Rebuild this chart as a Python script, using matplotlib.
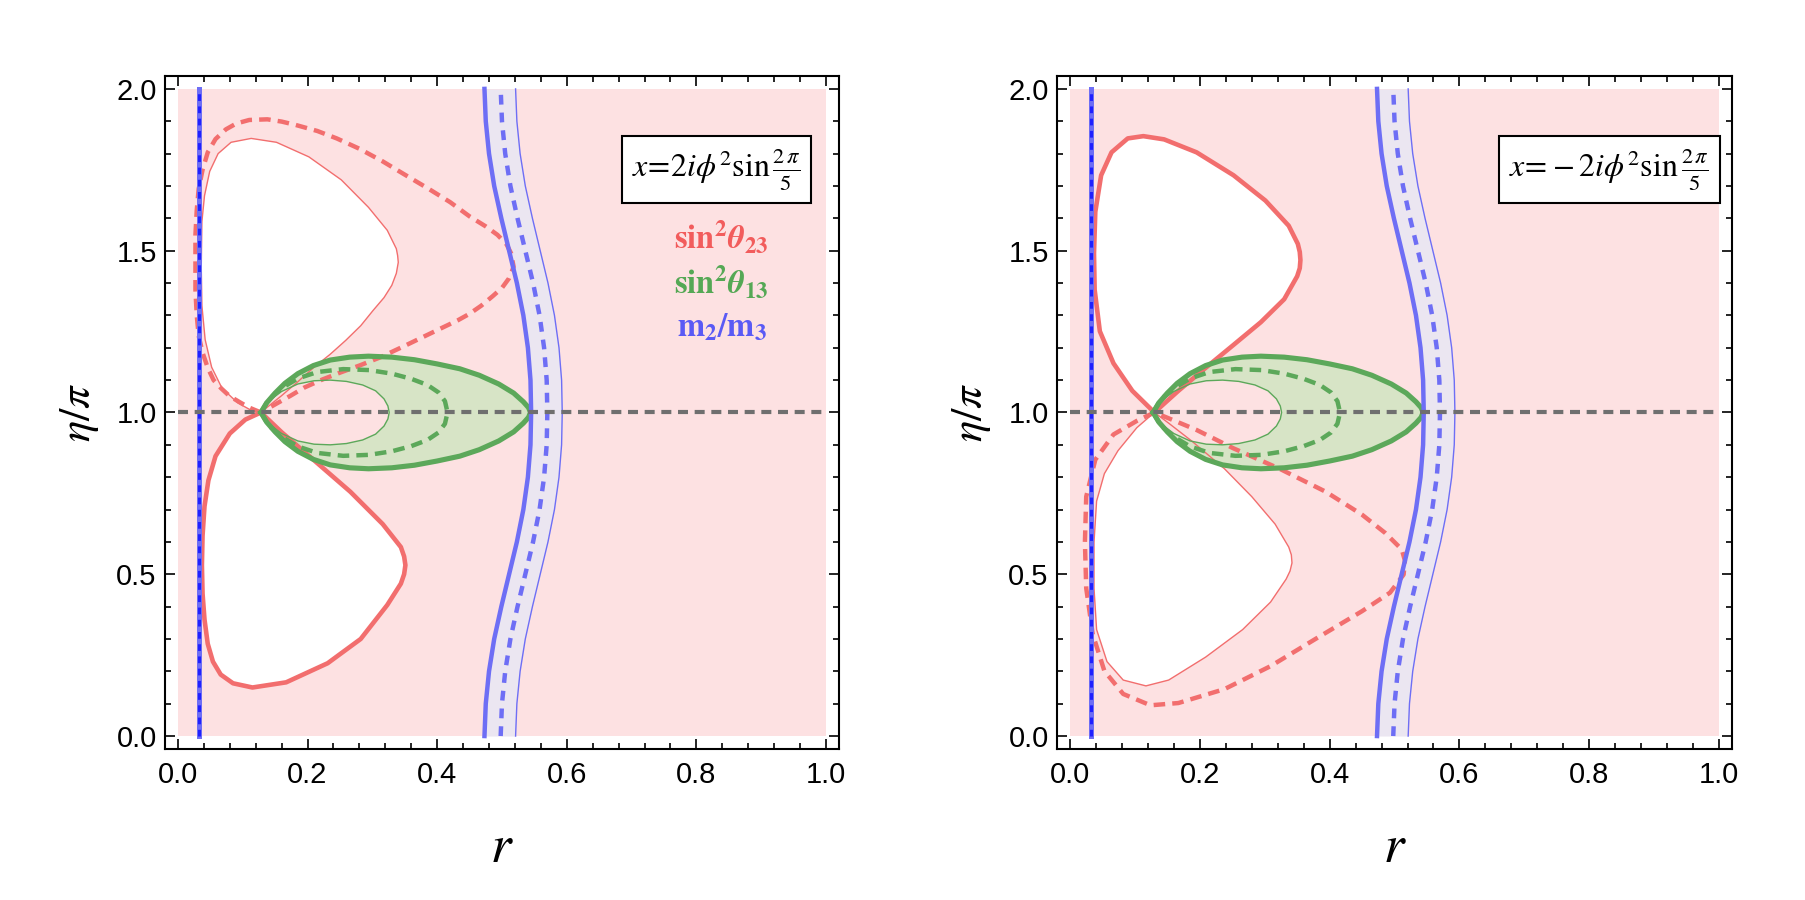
import matplotlib
matplotlib.use('Agg')
import matplotlib.pyplot as plt
from matplotlib.patches import Rectangle
from matplotlib.ticker import MultipleLocator, FormatStrFormatter

plt.rcParams['mathtext.fontset'] = 'stix'
plt.rcParams['font.family'] = ['Liberation Sans', 'DejaVu Sans']

# ---------------- data: (r, eta/pi) ----------------
# left panel, x = 2 i phi^2 sin(2pi/5)
L_up_r = [0.128, 0.145, 0.160, 0.185, 0.209, 0.235, 0.259, 0.282, 0.301, 0.318, 0.330, 0.337, 0.340, 0.339,
          0.337, 0.323, 0.294, 0.252, 0.202, 0.152, 0.113, 0.082, 0.062, 0.049, 0.041, 0.037, 0.036,
          0.037, 0.042, 0.052, 0.068, 0.092, 0.110, 0.128]
L_up_eta = [1.000, 1.028, 1.052, 1.095, 1.138, 1.180, 1.223, 1.268, 1.315, 1.355, 1.393, 1.430, 1.464, 1.485,
            1.506, 1.563, 1.634, 1.719, 1.790, 1.835, 1.847, 1.835, 1.800, 1.745, 1.670, 1.590, 1.450,
            1.330, 1.225, 1.140, 1.075, 1.030, 1.010, 1.000]

L_lo_r = [0.128, 0.160, 0.209, 0.266, 0.316, 0.344, 0.349, 0.351, 0.349, 0.344, 0.323, 0.282, 0.231,
          0.167, 0.115, 0.085, 0.066, 0.054, 0.046, 0.041, 0.038, 0.037, 0.038, 0.041, 0.047, 0.058,
          0.080, 0.104, 0.128]
L_lo_eta = [1.000, 0.939, 0.854, 0.755, 0.655, 0.584, 0.555, 0.528, 0.500, 0.471, 0.405, 0.300, 0.225,
            0.166, 0.150, 0.163, 0.190, 0.230, 0.285, 0.360, 0.440, 0.528, 0.620, 0.710, 0.790, 0.865,
            0.935, 0.978, 1.000]

L_dash_r = [0.128, 0.110, 0.096, 0.080, 0.067, 0.055, 0.046, 0.038, 0.032, 0.029, 0.027, 0.027, 0.027,
            0.029, 0.032, 0.038, 0.046, 0.058, 0.074, 0.090, 0.110, 0.138, 0.160, 0.181, 0.215, 0.245,
            0.280, 0.316, 0.350, 0.387, 0.420, 0.450, 0.475, 0.493, 0.507, 0.514, 0.518, 0.511, 0.500,
            0.486, 0.468, 0.450, 0.432, 0.408, 0.380, 0.351, 0.313, 0.280, 0.250, 0.223, 0.195, 0.174,
            0.150, 0.128]
L_dash_eta = [1.000, 1.015, 1.031, 1.050, 1.074, 1.100, 1.138, 1.185, 1.237, 1.300, 1.379, 1.460, 1.549,
              1.625, 1.691, 1.750, 1.804, 1.845, 1.875, 1.893, 1.904, 1.906, 1.899, 1.889, 1.870, 1.847,
              1.815, 1.776, 1.735, 1.691, 1.650, 1.606, 1.575, 1.549, 1.520, 1.492, 1.450, 1.415, 1.385,
              1.360, 1.330, 1.305, 1.285, 1.262, 1.235, 1.207, 1.171, 1.145, 1.123, 1.102, 1.077, 1.052,
              1.025, 1.000]

# right panel, x = -2 i phi^2 sin(2pi/5)
R_up_r = [0.130, 0.167, 0.209, 0.252, 0.294, 0.330, 0.350, 0.354, 0.355, 0.354, 0.351, 0.337, 0.301, 0.252,
          0.195, 0.145, 0.113, 0.089, 0.064, 0.048, 0.039, 0.037, 0.038, 0.046, 0.067, 0.096, 0.130]
R_up_eta = [1.000, 1.067, 1.138, 1.209, 1.279, 1.350, 1.421, 1.446, 1.471, 1.496, 1.521, 1.577, 1.655, 1.733,
            1.804, 1.844, 1.854, 1.847, 1.804, 1.733, 1.620, 1.492, 1.379, 1.251, 1.152, 1.067, 1.000]

R_lo_r = [0.130, 0.152, 0.188, 0.238, 0.280, 0.316, 0.337, 0.341, 0.342, 0.339, 0.333, 0.309, 0.266, 0.209,
          0.152, 0.117, 0.082, 0.057, 0.041, 0.037, 0.037, 0.041, 0.053, 0.074, 0.103, 0.130]
R_lo_eta = [1.000, 0.967, 0.911, 0.826, 0.740, 0.655, 0.584, 0.560, 0.535, 0.510, 0.485, 0.414, 0.329, 0.244,
            0.173, 0.155, 0.173, 0.230, 0.329, 0.457, 0.599, 0.726, 0.811, 0.882, 0.953, 1.000]

R_dash_r = [0.130, 0.103, 0.067, 0.039, 0.025, 0.023, 0.025, 0.035, 0.053, 0.082, 0.124, 0.167, 0.238,
            0.309, 0.379, 0.450, 0.493, 0.514, 0.516, 0.511, 0.486, 0.450, 0.394, 0.323, 0.252, 0.195,
            0.152, 0.130]
R_dash_eta = [1.000, 0.974, 0.932, 0.854, 0.740, 0.599, 0.457, 0.315, 0.201, 0.130, 0.095, 0.102, 0.145,
              0.216, 0.301, 0.386, 0.443, 0.499, 0.542, 0.577, 0.627, 0.684, 0.755, 0.826, 0.889, 0.946,
              0.982, 1.000]

# sin^2 theta_13 (same in both panels)
G_out_r = [0.128, 0.137, 0.150, 0.165, 0.185, 0.209, 0.235, 0.265, 0.294, 0.330, 0.365, 0.400, 0.435,
           0.465, 0.495, 0.518, 0.533, 0.541, 0.544, 0.541, 0.533, 0.518, 0.495, 0.465, 0.435, 0.400,
           0.365, 0.330, 0.294, 0.265, 0.235, 0.209, 0.185, 0.165, 0.150, 0.137, 0.128]
G_out_eta = [1.000, 1.030, 1.060, 1.090, 1.120, 1.145, 1.162, 1.171, 1.174, 1.171, 1.163, 1.150, 1.135,
             1.115, 1.088, 1.060, 1.033, 1.015, 1.000, 0.985, 0.967, 0.940, 0.912, 0.885, 0.865, 0.850,
             0.837, 0.829, 0.826, 0.829, 0.838, 0.855, 0.880, 0.910, 0.940, 0.970, 1.000]
G_dash_r = [0.128, 0.140, 0.160, 0.185, 0.215, 0.255, 0.295, 0.330, 0.360, 0.385, 0.402, 0.412, 0.416,
            0.412, 0.402, 0.385, 0.360, 0.330, 0.295, 0.255, 0.215, 0.185, 0.160, 0.140, 0.128]
G_dash_eta = [1.000, 1.040, 1.075, 1.105, 1.125, 1.134, 1.131, 1.120, 1.104, 1.085, 1.062, 1.035, 1.000,
              0.965, 0.938, 0.915, 0.896, 0.880, 0.869, 0.866, 0.875, 0.895, 0.925, 0.960, 1.000]
G_in_r = [0.128, 0.140, 0.160, 0.185, 0.210, 0.235, 0.260, 0.285, 0.305, 0.318, 0.324, 0.326, 0.324,
          0.318, 0.305, 0.285, 0.260, 0.235, 0.210, 0.185, 0.160, 0.140, 0.128]
G_in_eta = [1.000, 1.035, 1.065, 1.088, 1.098, 1.100, 1.096, 1.085, 1.067, 1.042, 1.020, 1.000, 0.980,
            0.958, 0.933, 0.915, 0.904, 0.900, 0.902, 0.912, 0.935, 0.965, 1.000]

# m2/m3 (same in both panels)
B_eta = [0.0, 0.1, 0.2, 0.3, 0.4, 0.5, 0.6, 0.7, 0.8, 0.9, 1.0, 1.1, 1.2, 1.3, 1.4, 1.5, 1.6, 1.7, 1.8,
         1.9, 2.0]
B_lo_r = [0.473, 0.475, 0.480, 0.488, 0.499, 0.511, 0.523, 0.533, 0.540, 0.544, 0.545, 0.544, 0.540,
          0.533, 0.523, 0.511, 0.499, 0.488, 0.480, 0.475, 0.473]
B_mid_r = [0.498, 0.500, 0.505, 0.513, 0.524, 0.536, 0.548, 0.558, 0.565, 0.569, 0.570, 0.569, 0.565,
           0.558, 0.548, 0.536, 0.524, 0.513, 0.505, 0.500, 0.498]
B_hi_r = [0.521, 0.523, 0.528, 0.536, 0.547, 0.559, 0.571, 0.581, 0.588, 0.592, 0.593, 0.592, 0.588,
          0.581, 0.571, 0.559, 0.547, 0.536, 0.528, 0.523, 0.521]
B_left_r = [0.033, 0.033]
B_left_eta = [0.0, 2.0]

boxes = [r'$x\!=\!2i\phi^2\mathrm{sin}\,\frac{2\,\pi}{5}$', r'$x\!=\!-2i\phi^2\mathrm{sin}\,\frac{2\,\pi}{5}$']
legend_txt = [r'$\mathbf{sin}^{\mathbf{2}}\mathbfit{\theta}_{\mathbf{23}}$',
              r'$\mathbf{sin}^{\mathbf{2}}\mathbfit{\theta}_{\mathbf{13}}$',
              r'$\mathbf{m}_{\mathbf{2}}\mathbf{/m}_{\mathbf{3}}$']

PINK = '#fde1e2'
RED = '#f26e6e'
GREEN = '#5ca85a'
GFILL = '#d7e4c6'
BLUE = '#6e6ef5'
BFILL = '#ebe6f1'
DASH = (2.6, 1.6)

fig = plt.figure(figsize=(18.05, 9.0), dpi=100)
ax1 = fig.add_axes([0.0914, 0.1678, 0.3734, 0.7478])
ax2 = fig.add_axes([0.5856, 0.1678, 0.3740, 0.7478])

panels = [
    (ax1, (L_up_r, L_up_eta, 1.0), (L_lo_r, L_lo_eta, 3.3), (L_dash_r, L_dash_eta), boxes[0], True),
    (ax2, (R_up_r, R_up_eta, 3.3), (R_lo_r, R_lo_eta, 1.0), (R_dash_r, R_dash_eta), boxes[1], False),
]

for ax, up, lo, dash, box, show_legend in panels:
    ax.add_patch(Rectangle((0, 0), 1, 2, facecolor=PINK, edgecolor='none', zorder=0))
    # excluded regions
    ax.fill(up[0], up[1], color='white', lw=0, zorder=1)
    ax.fill(lo[0], lo[1], color='white', lw=0, zorder=1)
    # m2/m3 band
    ax.fill_betweenx(B_eta, B_lo_r, B_hi_r, color=BFILL, lw=0, zorder=2)
    # theta_13 band
    ax.fill(G_out_r, G_out_eta, color=GFILL, lw=0, zorder=2)
    ax.fill(G_in_r, G_in_eta, color=PINK, lw=0, zorder=2)

    # theta_23 contours
    ax.plot(up[0], up[1], color=RED, lw=up[2], zorder=3, solid_joinstyle='round')
    ax.plot(lo[0], lo[1], color=RED, lw=lo[2], zorder=3, solid_joinstyle='round')
    ax.plot(dash[0], dash[1], color=RED, lw=3.2, dashes=DASH, zorder=3)

    # theta_13 contours
    ax.plot(G_out_r, G_out_eta, color=GREEN, lw=3.7, zorder=4, solid_joinstyle='round')
    ax.plot(G_dash_r, G_dash_eta, color=GREEN, lw=3.2, dashes=DASH, zorder=4)
    ax.plot(G_in_r, G_in_eta, color=GREEN, lw=1.0, zorder=4)

    # m2/m3 contours
    ax.plot(B_lo_r, B_eta, color=BLUE, lw=3.2, zorder=4)
    ax.plot(B_mid_r, B_eta, color=BLUE, lw=3.2, dashes=(2.2, 1.8), zorder=4)
    ax.plot(B_hi_r, B_eta, color=BLUE, lw=1.0, zorder=4)
    ax.plot(B_left_r, B_left_eta, color=BLUE, lw=3.6, zorder=4)
    ax.plot(B_left_r, B_left_eta, color='#2020ff', lw=2.2, dashes=(2.2, 1.8), zorder=4)

    ax.plot([0, 1], [1, 1], color='#6f6f6f', lw=3.0, dashes=(2.4, 1.6), zorder=5)

    ax.text(0.831, 1.75, box, fontsize=23, ha='center', va='center', zorder=6,
            bbox=dict(boxstyle='square,pad=0.32', fc='white', ec='black', lw=1.5))
    if show_legend:
        for txt, col, yy in zip(legend_txt, ['#f25c5c', '#55a855', '#5a5af5'], [1.541, 1.400, 1.263]):
            ax.text(0.839, yy, txt, color=col, fontsize=23.5, ha='center', va='center', zorder=6)

    ax.set_xlim(-0.02, 1.02)
    ax.set_ylim(-0.04, 2.04)
    ax.xaxis.set_major_locator(MultipleLocator(0.2))
    ax.xaxis.set_minor_locator(MultipleLocator(0.04))
    ax.yaxis.set_major_locator(MultipleLocator(0.5))
    ax.yaxis.set_minor_locator(MultipleLocator(0.1))
    ax.xaxis.set_major_formatter(FormatStrFormatter('%.1f'))
    ax.yaxis.set_major_formatter(FormatStrFormatter('%.1f'))
    ax.tick_params(which='both', direction='in', top=True, right=True, width=1.2, labelsize=21)
    ax.tick_params(which='major', length=7)
    ax.tick_params(which='minor', length=4.5)
    ax.tick_params(axis='x', pad=9)
    ax.tick_params(axis='y', pad=6)
    for s in ax.spines.values():
        s.set_linewidth(1.5)

    ax.set_xlabel(r'$r$', fontsize=38)
    ax.set_ylabel(r'$\eta/\pi$', fontsize=32)
    ax.xaxis.set_label_coords(0.5, -0.11)
    ax.yaxis.set_label_coords(-0.095, 0.5)

plt.savefig('out.png', dpi=100)
